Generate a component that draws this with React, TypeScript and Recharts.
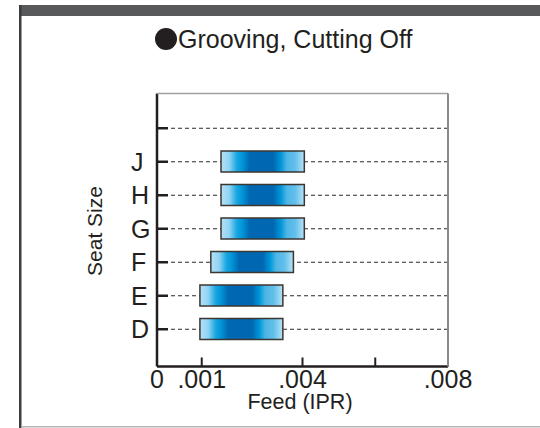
import React from 'react';
import { BarChart, Bar, XAxis, YAxis, CartesianGrid, Label } from 'recharts';

// seat sizes, top row is an empty slot
const categories = ['', 'J', 'H', 'G', 'F', 'E', 'D'];
const feedMin = [null, 0.00176, 0.00176, 0.00176, 0.00148, 0.00118, 0.00118];
const feedMax = [null, 0.00405, 0.00405, 0.00405, 0.00375, 0.00346, 0.00346];

const xTicks = [0, 0.00123, 0.004, 0.006, 0.008];
const xTickLabels = ['0', '.001', '.004', '', '.008'];

const data = categories.map((size, i) => ({
  size,
  range: feedMin[i] == null ? null : [feedMin[i], feedMax[i]],
}));

const FONT = '"Liberation Sans", Arial, Helvetica, sans-serif';
const INK = '#231f20';
const PLOT_LEFT = 157;
const PLOT_RIGHT = 448;
const PLOT_TOP = 93.5;
const PLOT_BOTTOM = 366.5;

const YTick = ({ y, payload }: any) => (
  <g>
    <line x1={PLOT_LEFT} x2={PLOT_LEFT + 11} y1={y} y2={y} stroke={INK} strokeWidth={2.5} />
    <text x={131} y={y} dy={9} textAnchor="start" fontSize={25} fill={INK} fontFamily={FONT}>
      {payload.value}
    </text>
  </g>
);

const XTick = ({ x, payload }: any) => {
  const i = xTicks.indexOf(payload.value);
  return (
    <g>
      {payload.value > 0 && (
        <line x1={x} x2={x} y1={PLOT_BOTTOM} y2={PLOT_BOTTOM - 9} stroke={INK} strokeWidth={2} />
      )}
      <text x={x} y={387.5} textAnchor="middle" fontSize={25} fill={INK} fontFamily={FONT}>
        {xTickLabels[i]}
      </text>
    </g>
  );
};

export default function App() {
  return (
    <div style={{ position: 'absolute', left: 0, top: 0, width: 540, height: 428, background: '#fff' }}>
      <svg width={540} height={428} style={{ position: 'absolute', left: 0, top: 0 }}>
        <rect x={19} y={5} width={521} height={11} fill="#58595b" />
        <rect x={19} y={5} width={2.5} height={423} fill="#3d3d3d" />
        <rect x={21} y={426} width={519} height={1.5} fill="#b5b5b5" />
        <circle cx={166} cy={39} r={11} fill={INK} />
        <text x={178} y={48} fontSize={25} fill={INK} fontFamily={FONT}>
          Grooving, Cutting Off
        </text>
      </svg>
      <div style={{ position: 'absolute', left: 0, top: 0 }}>
        <BarChart
          width={540}
          height={428}
          data={data}
          layout="vertical"
          margin={{ top: PLOT_TOP, right: 540 - PLOT_RIGHT, bottom: 0, left: 0 }}
        >
          <defs>
            <linearGradient id="feedGrad" x1="0" y1="0" x2="1" y2="0">
              <stop offset="0%" stopColor="#b3e1f7" />
              <stop offset="10%" stopColor="#8fd3f3" />
              <stop offset="19%" stopColor="#17a6e1" />
              <stop offset="26%" stopColor="#0093d6" />
              <stop offset="34%" stopColor="#0068b3" />
              <stop offset="63%" stopColor="#0068b3" />
              <stop offset="72%" stopColor="#0098d9" />
              <stop offset="79%" stopColor="#4fb5e6" />
              <stop offset="89%" stopColor="#62bfea" />
              <stop offset="100%" stopColor="#b8e3f7" />
            </linearGradient>
          </defs>
          <CartesianGrid horizontal vertical={false} stroke="#2a2a2a" strokeDasharray="4 3" />
          <XAxis
            type="number"
            domain={[0, 0.008]}
            ticks={xTicks}
            interval={0}
            height={428 - PLOT_BOTTOM}
            axisLine={{ stroke: INK, strokeWidth: 2.5 }}
            tickLine={false}
            tick={<XTick />}
          >
            <Label
              content={() => (
                <text x={300} y={409} textAnchor="middle" fontSize={21.5} fill={INK} fontFamily={FONT}>
                  Feed (IPR)
                </text>
              )}
            />
          </XAxis>
          <YAxis
            type="category"
            dataKey="size"
            width={PLOT_LEFT}
            interval={0}
            padding={{ top: 18, bottom: 20.5 }}
            axisLine={{ stroke: INK, strokeWidth: 2.5 }}
            tickLine={false}
            tick={<YTick />}
          >
            <Label
              content={() => (
                <text
                  x={102}
                  y={231}
                  transform="rotate(-90 102 231)"
                  textAnchor="middle"
                  fontSize={21}
                  fill={INK}
                  fontFamily={FONT}
                >
                  Seat Size
                </text>
              )}
            />
          </YAxis>
          <Bar
            dataKey="range"
            barSize={21}
            fill="url(#feedGrad)"
            stroke="#3c3630"
            strokeWidth={1.5}
            isAnimationActive={false}
          />
        </BarChart>
      </div>
      <svg
        width={540}
        height={428}
        style={{ position: 'absolute', left: 0, top: 0, pointerEvents: 'none' }}
      >
        <line x1={PLOT_LEFT} x2={PLOT_RIGHT} y1={PLOT_TOP} y2={PLOT_TOP} stroke="#a0a0a0" strokeWidth={1.5} />
        <line x1={PLOT_RIGHT} x2={PLOT_RIGHT} y1={PLOT_TOP} y2={PLOT_BOTTOM} stroke="#8a8a8a" strokeWidth={2} />
      </svg>
    </div>
  );
}
